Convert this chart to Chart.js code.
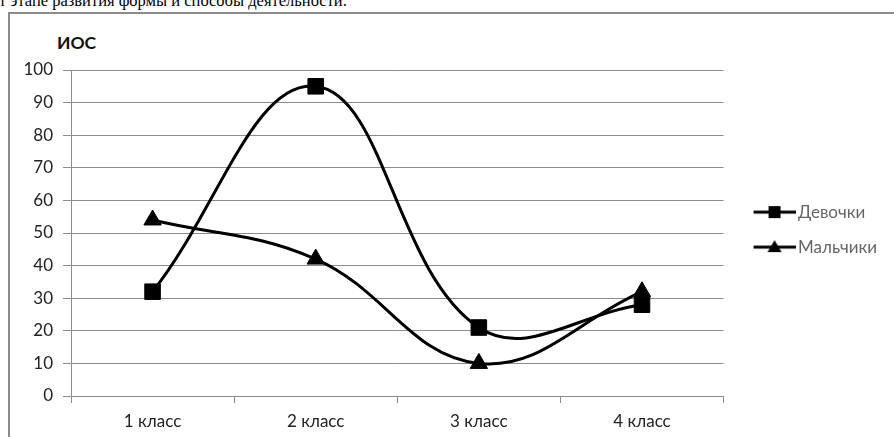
<!DOCTYPE html>
<html>
<head>
<meta charset="utf-8">
<script src="https://cdn.jsdelivr.net/npm/chart.js@4"></script>
<style>
  html, body { margin: 0; padding: 0; background: #fff; }
  body { width: 894px; height: 437px; position: relative; overflow: hidden; }
  #toptext { position: absolute; left: -1px; top: -8px; font-family: "Liberation Serif", serif; font-size: 16.5px; line-height: 17px; color: #000; white-space: nowrap; }
  #frame { position: absolute; left: 8px; top: 12px; width: 1000px; height: 1000px; border-left: 2px solid #8c8c8c; border-top: 2px solid #8c8c8c; }
  #ytitle { position: absolute; left: 57px; top: 32px; font-family: Lato, "Open Sans", sans-serif; font-weight: bold; font-size: 17.5px; color: #111; }
  #wrap { position: absolute; left: 0; top: 0; width: 894px; height: 437px; }
</style>
</head>
<body>
<div id="toptext">т этапе развития формы и способы деятельности.</div>
<div id="frame"></div>
<div id="ytitle">ИОС</div>
<div id="wrap"><canvas id="c" width="894" height="437"></canvas></div>
<script>
const categories = ["1 класс", "2 класс", "3 класс", "4 класс"];
const girls = [32, 95, 21, 28];
const boys = [54, 42, 10, 32];
const seriesNames = ["Девочки", "Мальчики"];
const yTicks = [0, 10, 20, 30, 40, 50, 60, 70, 80, 90, 100];

function legendIcon(style) {
  const cv = document.createElement('canvas');
  cv.width = 60; cv.height = 16;
  const g = cv.getContext('2d');
  g.strokeStyle = '#000'; g.lineWidth = 3;
  g.beginPath(); g.moveTo(18, 8); g.lineTo(60, 8); g.stroke();
  g.fillStyle = '#000';
  if (style === 'rect') {
    g.fillRect(33, 2, 12, 12);
  } else {
    g.beginPath(); g.moveTo(39, 1); g.lineTo(46, 13); g.lineTo(32, 13); g.closePath(); g.fill();
  }
  return cv;
}
const icons = [legendIcon('rect'), legendIcon('triangle')];

const font = { family: 'Lato, "Open Sans", sans-serif', size: 17 };

new Chart(document.getElementById('c'), {
  type: 'line',
  data: {
    labels: categories,
    datasets: [
      { label: seriesNames[0], data: girls, borderColor: '#000', backgroundColor: '#000', borderWidth: 3,
        pointStyle: 'rect', pointRadius: 11, pointBorderWidth: 1, tension: 0.4, fill: false },
      { label: seriesNames[1], data: boys, borderColor: '#000', backgroundColor: '#000', borderWidth: 3,
        pointStyle: 'triangle', pointRadius: 10, pointBorderWidth: 1, tension: 0.4, fill: false }
    ]
  },
  options: {
    responsive: false,
    animation: false,
    layout: { padding: { top: 70, left: 0, right: 7, bottom: 0 } },
    plugins: {
      title: { display: false },
      tooltip: { enabled: false },
      legend: {
        position: 'right',
        fullSize: false,
        title: { display: true, text: ' ', font: { size: 1 }, padding: { top: -4, bottom: -4 } },
        labels: {
          usePointStyle: true,
          pointStyleWidth: 48,
          boxHeight: 16,
          padding: 18,
          color: '#111',
          font: font,
          generateLabels: (chart) => chart.data.datasets.map((ds, i) => ({
            text: ds.label, pointStyle: icons[i], fillStyle: '#000', strokeStyle: '#000',
            lineWidth: 0, datasetIndex: i, hidden: false
          }))
        }
      }
    },
    scales: {
      x: {
        offset: true,
        grid: { offset: true, drawOnChartArea: false, color: '#8c8c8c', tickLength: 7, tickColor: '#8c8c8c' },
        border: { color: '#8c8c8c', width: 1 },
        ticks: { color: '#222', font: font, padding: 8 },
        afterFit: (s) => { s.height = 41; }
      },
      y: {
        min: 0, max: 100,
        afterBuildTicks: (s) => { s.ticks = yTicks.map(v => ({ value: v })); },
        grid: { color: '#8c8c8c', lineWidth: 1, tickLength: 8, tickColor: '#8c8c8c' },
        border: { color: '#8c8c8c', width: 1 },
        ticks: { color: '#222', font: font, padding: 10 },
        afterFit: (s) => { s.width = 71; }
      }
    }
  }
});
</script>
</body>
</html>
